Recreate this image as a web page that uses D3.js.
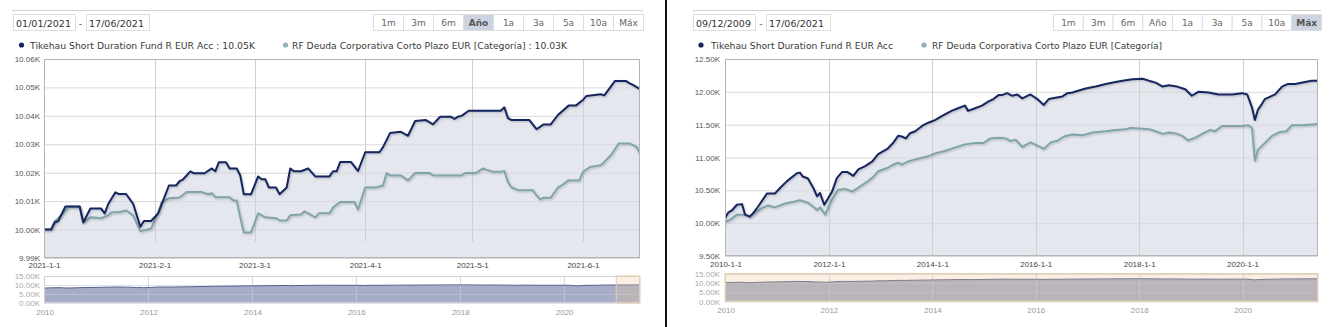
<!DOCTYPE html>
<html>
<head>
<meta charset="utf-8">
<script src="https://cdn.jsdelivr.net/npm/d3@7"></script>
<style>
  html, body { margin: 0; padding: 0; background: #fff; }
  svg { display: block; font-family: "DejaVu Sans", Verdana, sans-serif; }
</style>
</head>
<body>
<svg id="chart" width="1332" height="327"></svg>
<script>
// ---- Series names and range selector ----
const seriesNames = [
  "Tikehau Short Duration Fund R EUR Acc",
  "RF Deuda Corporativa Corto Plazo EUR [Categoría]"
];
const rangeButtons = ["1m", "3m", "6m", "Año", "1a", "3a", "5a", "10a", "Máx"];

// ---- Year-to-date window (base 10K on 01/01/2021) ----
const fundYtd = [
  ["2021-01-01",10.000],["2021-01-03",10.000],["2021-01-04",10.0025],["2021-01-05",10.003],
  ["2021-01-07",10.0081],["2021-01-11",10.0081],["2021-01-12",10.0025],["2021-01-14",10.0074],
  ["2021-01-17",10.0074],["2021-01-18",10.0057],["2021-01-19",10.009],["2021-01-21",10.0131],
  ["2021-01-22",10.0125],["2021-01-24",10.0125],["2021-01-26",10.009],["2021-01-28",10.001],
  ["2021-01-29",10.003],["2021-01-31",10.003],["2021-02-02",10.0057],["2021-02-05",10.0155],
  ["2021-02-07",10.0155],["2021-02-08",10.017],["2021-02-09",10.0177],["2021-02-11",10.0205],
  ["2021-02-12",10.0198],["2021-02-15",10.0198],["2021-02-17",10.0215],["2021-02-18",10.0205],
  ["2021-02-19",10.0237],["2021-02-21",10.0237],["2021-02-22",10.0215],["2021-02-24",10.0215],
  ["2021-02-25",10.019],["2021-02-26",10.0124],["2021-02-28",10.0124],["2021-03-02",10.0187],
  ["2021-03-03",10.0177],["2021-03-04",10.0177],["2021-03-05",10.0148],["2021-03-07",10.0148],
  ["2021-03-08",10.0124],["2021-03-10",10.0148],["2021-03-11",10.0215],["2021-03-12",10.0205],
  ["2021-03-14",10.0205],["2021-03-16",10.0215],["2021-03-18",10.0187],["2021-03-22",10.0187],
  ["2021-03-23",10.0205],["2021-03-24",10.0205],["2021-03-25",10.0238],["2021-03-28",10.0238],
  ["2021-03-30",10.0206],["2021-04-01",10.0272],["2021-04-05",10.0272],["2021-04-06",10.029],
  ["2021-04-08",10.034],["2021-04-11",10.0344],["2021-04-13",10.033],["2021-04-15",10.0382],
  ["2021-04-18",10.0385],["2021-04-20",10.037],["2021-04-22",10.0397],["2021-04-25",10.0397],
  ["2021-04-26",10.0389],["2021-04-27",10.0397],["2021-04-28",10.040],["2021-04-30",10.0418],
  ["2021-05-09",10.0418],["2021-05-10",10.043],["2021-05-11",10.0392],["2021-05-12",10.0385],
  ["2021-05-17",10.0385],["2021-05-19",10.0353],["2021-05-21",10.037],["2021-05-23",10.037],
  ["2021-05-25",10.0403],["2021-05-28",10.0436],["2021-05-30",10.0436],["2021-06-01",10.0456],
  ["2021-06-02",10.047],["2021-06-06",10.0476],["2021-06-07",10.0472],["2021-06-10",10.0523],
  ["2021-06-13",10.0523],["2021-06-14",10.0515],["2021-06-15",10.0509],["2021-06-17",10.0494]
];
const categoryYtd = [
  ["2021-01-01",10.000],["2021-01-03",10.000],["2021-01-04",10.003],["2021-01-05",10.004],
  ["2021-01-08",10.008],["2021-01-11",10.008],["2021-01-12",10.0025],["2021-01-14",10.0043],
  ["2021-01-17",10.004],["2021-01-19",10.005],["2021-01-20",10.0061],["2021-01-22",10.0061],
  ["2021-01-24",10.0067],["2021-01-26",10.005],["2021-01-28",9.9994],["2021-01-30",10.000],
  ["2021-01-31",10.0003],["2021-02-02",10.006],["2021-02-03",10.0097],["2021-02-05",10.011],
  ["2021-02-08",10.0113],["2021-02-10",10.0132],["2021-02-14",10.0132],["2021-02-16",10.0124],
  ["2021-02-17",10.0128],["2021-02-18",10.0114],["2021-02-22",10.0114],["2021-02-23",10.0102],
  ["2021-02-24",10.0102],["2021-02-25",10.0043],["2021-02-26",9.999],["2021-02-28",9.999],
  ["2021-03-02",10.0057],["2021-03-03",10.005],["2021-03-04",10.0043],["2021-03-07",10.004],
  ["2021-03-08",10.0032],["2021-03-10",10.0032],["2021-03-11",10.005],["2021-03-14",10.0053],
  ["2021-03-15",10.0064],["2021-03-16",10.0057],["2021-03-18",10.0043],["2021-03-19",10.0057],
  ["2021-03-22",10.0057],["2021-03-23",10.0078],["2021-03-25",10.0097],["2021-03-29",10.0097],
  ["2021-03-30",10.007],["2021-04-01",10.0148],["2021-04-04",10.0148],["2021-04-06",10.0155],
  ["2021-04-07",10.0199],["2021-04-08",10.019],["2021-04-11",10.019],["2021-04-13",10.0173],
  ["2021-04-15",10.0199],["2021-04-19",10.0199],["2021-04-20",10.019],["2021-04-28",10.019],
  ["2021-04-29",10.0199],["2021-05-02",10.0199],["2021-05-04",10.0215],["2021-05-05",10.021],
  ["2021-05-07",10.0203],["2021-05-09",10.0203],["2021-05-10",10.0206],["2021-05-11",10.0167],
  ["2021-05-12",10.0148],["2021-05-14",10.0138],["2021-05-18",10.0138],["2021-05-19",10.012],
  ["2021-05-20",10.0106],["2021-05-21",10.0112],["2021-05-23",10.0112],["2021-05-25",10.0148],
  ["2021-05-26",10.0155],["2021-05-28",10.0173],["2021-05-31",10.0173],["2021-06-01",10.0203],
  ["2021-06-03",10.022],["2021-06-06",10.0226],["2021-06-07",10.0238],["2021-06-09",10.0264],
  ["2021-06-11",10.0303],["2021-06-14",10.0303],["2021-06-15",10.0297],["2021-06-16",10.0291],
  ["2021-06-17",10.0267]
];

// ---- Full history (base 10K on 09/12/2009) ----
const fundHistory = [
  ["2009-12-09",10.00],["2010-01-19",10.16],["2010-02-17",10.20],["2010-03-22",10.28],
  ["2010-04-27",10.29],["2010-05-19",10.13],["2010-06-21",10.10],["2010-07-13",10.15],
  ["2010-08-18",10.25],["2010-10-20",10.45],["2010-12-15",10.45],["2011-01-22",10.54],
  ["2011-03-11",10.64],["2011-05-20",10.76],["2011-06-10",10.77],["2011-07-01",10.71],
  ["2011-08-06",10.68],["2011-09-12",10.54],["2011-10-09",10.41],["2011-10-30",10.46],
  ["2011-11-29",10.28],["2012-01-23",10.48],["2012-02-27",10.69],["2012-04-04",10.78],
  ["2012-05-09",10.78],["2012-06-21",10.72],["2012-07-27",10.82],["2012-09-13",10.87],
  ["2012-11-03",10.94],["2012-12-14",11.05],["2013-02-17",11.13],["2013-03-29",11.22],
  ["2013-05-04",11.33],["2013-05-30",11.32],["2013-06-28",11.29],["2013-07-27",11.37],
  ["2013-09-02",11.40],["2013-10-20",11.48],["2013-12-03",11.53],["2014-01-19",11.57],
  ["2014-03-08",11.63],["2014-05-16",11.71],["2014-07-02",11.75],["2014-08-19",11.79],
  ["2014-09-10",11.71],["2014-10-30",11.75],["2014-12-17",11.79],["2015-01-30",11.85],
  ["2015-03-08",11.89],["2015-04-13",11.95],["2015-05-08",11.95],["2015-06-13",11.98],
  ["2015-07-19",11.94],["2015-08-24",11.96],["2015-09-28",11.90],["2015-11-25",11.96],
  ["2016-01-12",11.89],["2016-02-27",11.80],["2016-04-02",11.89],["2016-05-20",11.91],
  ["2016-07-08",11.93],["2016-08-12",11.98],["2016-09-17",11.99],["2016-11-01",12.02],
  ["2016-12-19",12.05],["2017-02-28",12.08],["2017-05-10",12.12],["2017-07-19",12.15],
  ["2017-09-05",12.17],["2017-11-14",12.19],["2018-01-25",12.20],["2018-03-10",12.17],
  ["2018-04-27",12.14],["2018-06-15",12.08],["2018-07-28",12.10],["2018-09-25",12.08],
  ["2018-11-22",12.04],["2019-01-08",11.94],["2019-02-22",12.00],["2019-05-05",11.99],
  ["2019-07-15",11.96],["2019-10-20",11.96],["2019-12-28",11.98],["2020-02-03",11.96],
  ["2020-03-08",11.76],["2020-03-28",11.57],["2020-04-19",11.73],["2020-05-15",11.81],
  ["2020-06-07",11.89],["2020-08-18",11.96],["2020-10-06",12.08],["2020-11-17",12.12],
  ["2021-01-06",12.12],["2021-03-17",12.15],["2021-05-04",12.17],["2021-06-17",12.17]
];
const categoryHistory = [
  ["2009-12-09",10.00],["2010-02-02",10.05],["2010-03-22",10.13],["2010-05-19",10.13],
  ["2010-06-21",10.10],["2010-08-11",10.18],["2010-09-16",10.23],["2010-10-28",10.27],
  ["2010-12-15",10.24],["2011-02-25",10.30],["2011-05-05",10.33],["2011-06-10",10.35],
  ["2011-08-06",10.31],["2011-09-12",10.25],["2011-10-09",10.20],["2011-10-30",10.24],
  ["2011-12-06",10.13],["2012-01-23",10.36],["2012-03-06",10.51],["2012-04-24",10.52],
  ["2012-06-14",10.48],["2012-07-27",10.54],["2012-09-13",10.61],["2012-11-03",10.69],
  ["2012-12-14",10.79],["2013-02-17",10.84],["2013-03-29",10.89],["2013-05-04",10.92],
  ["2013-05-30",10.89],["2013-07-13",10.94],["2013-09-21",10.98],["2013-12-03",11.02],
  ["2014-01-19",11.06],["2014-03-30",11.10],["2014-06-09",11.15],["2014-08-19",11.20],
  ["2014-10-30",11.22],["2014-12-27",11.22],["2015-02-14",11.29],["2015-04-13",11.30],
  ["2015-06-03",11.29],["2015-07-06",11.25],["2015-08-11",11.27],["2015-09-28",11.16],
  ["2015-11-25",11.23],["2016-01-12",11.18],["2016-02-27",11.13],["2016-04-16",11.23],
  ["2016-06-06",11.26],["2016-07-19",11.32],["2016-09-17",11.35],["2016-11-28",11.34],
  ["2017-02-06",11.38],["2017-05-10",11.40],["2017-07-19",11.42],["2017-09-27",11.43],
  ["2017-11-02",11.45],["2018-01-01",11.44],["2018-03-10",11.43],["2018-04-27",11.40],
  ["2018-06-15",11.36],["2018-07-28",11.38],["2018-09-25",11.36],["2018-10-31",11.33],
  ["2018-12-13",11.26],["2019-01-31",11.30],["2019-03-22",11.36],["2019-05-17",11.42],
  ["2019-06-20",11.40],["2019-08-08",11.48],["2019-10-20",11.48],["2019-12-28",11.48],
  ["2020-02-11",11.49],["2020-03-08",11.45],["2020-03-28",10.95],["2020-04-19",11.12],
  ["2020-06-07",11.22],["2020-07-27",11.33],["2020-09-22",11.39],["2020-11-07",11.40],
  ["2020-12-12",11.49],["2021-02-20",11.49],["2021-04-19",11.50],["2021-06-17",11.51]
];

// ---- Axis ticks ----
const ytdValueTicks = [9.99, 10.00, 10.01, 10.02, 10.03, 10.04, 10.05, 10.06];
const ytdDateTicks = ["2021-01-01", "2021-02-01", "2021-03-01", "2021-04-01", "2021-05-01", "2021-06-01"];
const historyValueTicks = [9.5, 10.0, 10.5, 11.0, 11.5, 12.0, 12.5];
const historyDateTicks = ["2010-01-01", "2012-01-01", "2014-01-01", "2016-01-01", "2018-01-01", "2020-01-01"];
const navigatorValueTicks = [0, 5, 10, 15];
const navigatorYearTicks = ["2010-01-01", "2012-01-01", "2014-01-01", "2016-01-01", "2018-01-01", "2020-01-01"];

// ---- Shared helpers ----
const parse = d3.timeParse("%Y-%m-%d");
const toPoints = rows => rows.map(([d, v]) => ({ date: parse(d), value: v }));
const kFormat = v => d3.format(".2f")(v) + "K";
const dayFormat = d => `${d.getFullYear()}-${d.getMonth() + 1}-${d.getDate()}`;
const yearFormat = d3.timeFormat("%Y");
const FUND = "#15255f", CATEGORY = "#80a4a9", FILL = "#e5e7ef";

const svg = d3.select("#chart");
const defs = svg.append("defs");
const shadow = defs.append("filter").attr("id", "lineShadow")
  .attr("x", "-2%").attr("y", "-10%").attr("width", "104%").attr("height", "130%");
shadow.append("feDropShadow").attr("dx", 1).attr("dy", 1).attr("stdDeviation", 0.9)
  .attr("flood-color", "#000").attr("flood-opacity", 0.22);

// value of a series at a given date (linear between samples)
function valueAt(points, date) {
  const i = d3.bisector(d => d.date).left(points, date);
  if (i <= 0) return points[0].value;
  if (i >= points.length) return points[points.length - 1].value;
  const a = points[i - 1], b = points[i];
  const t = (date - a.date) / (b.date - a.date);
  return a.value + t * (b.value - a.value);
}

function drawPanel(p, idx) {
  const g = svg.append("g");
  const fund = toPoints(p.fund), category = toPoints(p.category);
  const history = toPoints(fundHistory);

  // toolbar rule
  g.append("line").attr("x1", p.rule[0]).attr("x2", p.rule[1])
    .attr("y1", 10.5).attr("y2", 10.5).attr("stroke", "#d2d2d2");

  // date range fields
  p.dateFields.forEach((f, i) => {
    g.append("rect").attr("x", f[0] + 0.5).attr("y", 14.5).attr("width", f[1] - f[0]).attr("height", 16)
      .attr("fill", "#fff").attr("stroke", "#dedede");
    g.append("text").attr("x", f[0] + 3).attr("y", 26.5).attr("font-size", 9.5).attr("fill", "#333")
      .attr("textLength", 55).attr("lengthAdjust", "spacingAndGlyphs").text(p.rangeText[i]);
  });
  g.append("text").attr("x", p.dash).attr("y", 26.5).attr("font-size", 9.5).attr("fill", "#555")
    .attr("text-anchor", "middle").text("-");

  // range buttons
  const bw = (p.buttons[1] - p.buttons[0]) / rangeButtons.length;
  rangeButtons.forEach((label, i) => {
    const bx = p.buttons[0] + i * bw;
    const on = i === p.active;
    g.append("rect").attr("x", bx + 0.5).attr("y", 14.5).attr("width", bw).attr("height", 16)
      .attr("fill", on ? "#cbd4e0" : "#fff").attr("stroke", "#dedede");
    g.append("text").attr("x", bx + bw / 2 + 0.5).attr("y", 26).attr("text-anchor", "middle")
      .attr("font-size", 9).attr("fill", on ? "#555" : "#666")
      .attr("font-weight", on ? "bold" : null).text(label);
  });

  // legend
  const lastFund = fund[fund.length - 1].value, lastCat = category[category.length - 1].value;
  const legendText = p.showValues
    ? [`${seriesNames[0]} : ${kFormat(lastFund)}`, `${seriesNames[1]} : ${kFormat(lastCat)}`]
    : seriesNames;
  [FUND, "#8fb0b5"].forEach((c, i) => {
    const L = p.legend[i];
    g.append("circle").attr("cx", L[0]).attr("cy", 45).attr("r", 2.6).attr("fill", c);
    g.append("text").attr("x", L[1]).attr("y", 48.5).attr("font-size", 9.5).attr("fill", "#3a3a3a")
      .attr("textLength", L[2]).attr("lengthAdjust", "spacingAndGlyphs").text(legendText[i]);
  });

  // ---- main plot ----
  const P = p.plot;
  const x = d3.scaleTime().domain(p.xDomain.map(parse)).range([P.l, P.r]);
  const y = d3.scaleLinear().domain(p.yDomain).range([P.b, P.t]);
  const clipId = "plotClip" + idx;
  defs.append("clipPath").attr("id", clipId).append("rect")
    .attr("x", P.l).attr("y", P.t).attr("width", P.r - P.l).attr("height", P.b - P.t);

  g.append("path").datum(fund).attr("clip-path", `url(#${clipId})`).attr("fill", FILL)
    .attr("d", d3.area().x(d => x(d.date)).y0(P.b).y1(d => y(d.value)));

  // horizontal grid + value labels
  const yAxis = g.append("g").attr("transform", `translate(${P.l},0)`)
    .call(d3.axisLeft(y).tickValues(p.yTicks).tickFormat(kFormat)
      .tickSize(-(P.r - P.l)).tickPadding(p.yPad));
  yAxis.select(".domain").remove();
  yAxis.selectAll("line").attr("stroke", "#d9d9dd");
  yAxis.selectAll("text").attr("font-size", 8).attr("fill", "#555").attr("font-family", null);

  // vertical grid
  const xTicks = p.xTicks.map(parse);
  g.append("g").selectAll("line").data(xTicks.filter(d => x(d) > P.l + 2)).join("line")
    .attr("x1", d => Math.round(x(d)) + 0.5).attr("x2", d => Math.round(x(d)) + 0.5)
    .attr("y1", P.t).attr("y2", p.vGridBottom).attr("stroke", "#cfcfd4");

  // date labels
  const xAxis = g.append("g").attr("transform", `translate(0,${P.b})`)
    .call(d3.axisBottom(x).tickValues(xTicks).tickFormat(dayFormat).tickSize(0).tickPadding(p.xPad));
  xAxis.select(".domain").remove();
  xAxis.selectAll("text").attr("font-size", 8).attr("fill", "#444").attr("font-family", null);

  // series lines
  const line = d3.line().x(d => x(d.date)).y(d => y(d.value));
  const lines = g.append("g").attr("clip-path", `url(#${clipId})`);
  lines.append("path").datum(category).attr("d", line).attr("fill", "none")
    .attr("stroke", CATEGORY).attr("stroke-width", 2).attr("stroke-linejoin", "round")
    .attr("filter", "url(#lineShadow)");
  lines.append("path").datum(fund).attr("d", line).attr("fill", "none")
    .attr("stroke", FUND).attr("stroke-width", 2).attr("stroke-linejoin", "round")
    .attr("filter", "url(#lineShadow)");

  g.append("rect").attr("x", P.l + 0.5).attr("y", P.t + 0.5)
    .attr("width", P.r - P.l - 1).attr("height", P.b - P.t - 1)
    .attr("fill", "none").attr("stroke", "#b5b5b8");

  // ---- navigator: full fund history rebased to the selected window ----
  const N = p.nav;
  const nx = d3.scaleTime().domain(p.navDomain.map(parse)).range([P.l, P.r]);
  const ny = d3.scaleLinear().domain([0, 15]).range([N.b, N.t]);
  const selStart = parse(p.selection[0]), selEnd = parse(p.selection[1]);
  const rebase = 10 / valueAt(history, selStart);
  const navSeries = history.map(d => ({ date: d.date, value: d.value * rebase }));
  const navClip = "navClip" + idx;
  defs.append("clipPath").attr("id", navClip).append("rect")
    .attr("x", P.l).attr("y", N.t).attr("width", P.r - P.l).attr("height", N.b - N.t);

  g.append("rect").attr("x", P.l).attr("y", N.t).attr("width", P.r - P.l).attr("height", N.b - N.t)
    .attr("fill", "#fff");
  g.append("path").datum(navSeries).attr("clip-path", `url(#${navClip})`)
    .attr("fill", "#a7adc9")
    .attr("d", d3.area().x(d => nx(d.date)).y0(N.b).y1(d => ny(d.value)));

  const navY = g.append("g").attr("transform", `translate(${P.l},0)`)
    .call(d3.axisLeft(ny).tickValues(navigatorValueTicks).tickFormat(kFormat)
      .tickSize(-(P.r - P.l)).tickPadding(p.yPad));
  navY.select(".domain").remove();
  navY.selectAll("line").attr("stroke", "#c6c9d8").attr("stroke-opacity", 0.55);
  navY.selectAll("text").attr("font-size", 8).attr("fill", "#aaa").attr("font-family", null);

  const navTicks = navigatorYearTicks.map(parse);
  g.append("g").selectAll("line").data(navTicks.filter(d => nx(d) > P.l + 2)).join("line")
    .attr("x1", d => Math.round(nx(d)) + 0.5).attr("x2", d => Math.round(nx(d)) + 0.5)
    .attr("y1", N.t).attr("y2", N.b).attr("stroke", "#c6c9d8").attr("stroke-opacity", 0.7);

  g.append("path").datum(navSeries).attr("clip-path", `url(#${navClip})`)
    .attr("fill", "none").attr("stroke", "#56618f").attr("stroke-width", 1)
    .attr("d", d3.line().x(d => nx(d.date)).y(d => ny(d.value)));

  const navX = g.append("g").attr("transform", `translate(0,${N.b})`)
    .call(d3.axisBottom(nx).tickValues(navTicks).tickFormat(yearFormat).tickSize(0).tickPadding(p.navPad));
  navX.select(".domain").remove();
  navX.selectAll("text").attr("font-size", 8).attr("fill", "#999").attr("font-family", null);

  g.append("rect").attr("x", P.l + 0.5).attr("y", N.t + 0.5)
    .attr("width", P.r - P.l - 1).attr("height", N.b - N.t - 1)
    .attr("fill", "none").attr("stroke", "#cfcfd4");

  // selected window
  const s0 = Math.max(P.l, nx(selStart)), s1 = Math.min(P.r, nx(selEnd));
  g.append("rect").attr("x", s0).attr("y", N.t).attr("width", s1 - s0).attr("height", N.b - N.t)
    .attr("fill", "rgb(238,196,146)").attr("fill-opacity", 0.27)
    .attr("stroke", "#e4cfae").attr("stroke-width", 1);
}

// ---- panels ----
drawPanel({
  rule: [12, 643], dateFields: [[13, 75], [86, 149]], dash: 80.5,
  rangeText: ["01/01/2021", "17/06/2021"],
  buttons: [373, 643], active: 3,
  legend: [[21.5, 30, 225], [285.5, 292, 275]], showValues: true,
  plot: { l: 44, t: 59, r: 640, b: 258 }, vGridBottom: 242,
  xDomain: ["2021-01-01", "2021-06-17"], yDomain: [9.99, 10.06],
  yTicks: ytdValueTicks, xTicks: ytdDateTicks, yPad: 4, xPad: 4.8,
  fund: fundYtd, category: categoryYtd,
  nav: { t: 276, b: 303 }, navDomain: ["2009-12-28", "2021-06-17"], navPad: 6.8,
  selection: ["2021-01-01", "2021-06-17"]
}, 0);

drawPanel({
  rule: [693, 1321], dateFields: [[693, 755], [766, 830]], dash: 761,
  rangeText: ["09/12/2009", "17/06/2021"],
  buttons: [1053, 1321], active: 8,
  legend: [[701, 711, 182], [924, 932, 230]], showValues: false,
  plot: { l: 725, t: 59, r: 1318, b: 256 }, vGridBottom: 256,
  xDomain: ["2009-12-28", "2021-06-17"], yDomain: [9.5, 12.5],
  yTicks: historyValueTicks, xTicks: historyDateTicks, yPad: 5, xPad: 5.8,
  fund: fundHistory, category: categoryHistory,
  nav: { t: 273.5, b: 301.5 }, navDomain: ["2009-12-28", "2021-06-17"], navPad: 6.3,
  selection: ["2009-12-09", "2021-06-17"]
}, 1);

// divider between the two views
svg.append("rect").attr("x", 665).attr("y", 0).attr("width", 2).attr("height", 327).attr("fill", "#111");
</script>
</body>
</html>
